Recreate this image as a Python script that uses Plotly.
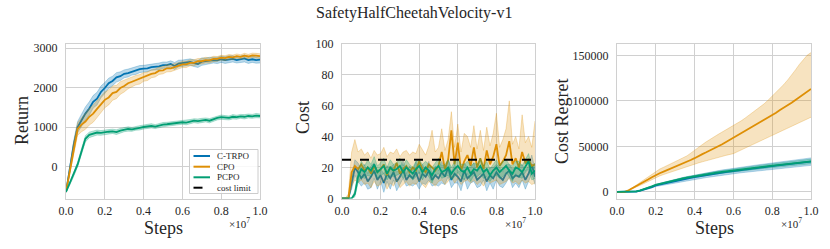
import numpy as np
import plotly.graph_objects as go

# ---------------- data ----------------
steps51 = np.linspace(0, 1, 51)   # x in units of 1e7 steps
steps61 = np.linspace(0, 1, 61)

ctrpo_ret = [-650, -50, 550, 1000, 1180, 1340, 1470, 1640, 1720, 1890,
             1990, 2110, 2170, 2260, 2290, 2350, 2370, 2410, 2430, 2470,
             2480, 2490, 2520, 2530, 2540, 2570, 2570, 2600, 2550, 2610,
             2620, 2640, 2650, 2620, 2600, 2660, 2670, 2690, 2700, 2690,
             2720, 2700, 2720, 2730, 2700, 2720, 2740, 2700, 2720, 2700, 2710]
ctrpo_ret_std = [0, 60, 110, 140, 160, 170, 170, 160, 160, 150,
                 140, 130, 120, 120, 110, 100, 100, 90, 95, 90,
                 85, 85, 80, 80, 85, 80, 80, 80, 90, 85,
                 80, 75, 80, 85, 90, 95, 80, 80, 75, 80,
                 80, 85, 90, 80, 75, 80, 90, 85, 80, 80, 85]
cpo_ret = [-650, -100, 500, 950, 1060, 1140, 1260, 1340, 1460, 1570,
           1690, 1750, 1860, 1890, 1990, 2040, 2110, 2150, 2190, 2210,
           2270, 2290, 2350, 2370, 2430, 2440, 2490, 2490, 2530, 2550,
           2590, 2590, 2630, 2630, 2670, 2670, 2700, 2690, 2730, 2730,
           2760, 2750, 2780, 2770, 2800, 2780, 2810, 2790, 2820, 2810, 2800]
cpo_ret_std = [0, 70, 120, 160, 180, 200, 210, 220, 220, 210,
               200, 190, 180, 170, 160, 150, 140, 130, 120, 120,
               110, 110, 100, 100, 95, 90, 90, 85, 85, 80,
               80, 80, 75, 75, 70, 70, 70, 65, 65, 60,
               60, 60, 60, 55, 55, 55, 60, 55, 55, 60, 60]
pcpo_ret = [-650, -430, -200, 50, 380, 700, 800, 830, 860, 850,
            870, 880, 890, 870, 910, 930, 950, 940, 970, 980,
            1000, 1010, 1030, 1010, 1040, 1060, 1070, 1080, 1090, 1100,
            1120, 1110, 1140, 1160, 1150, 1170, 1180, 1160, 1200, 1230,
            1250, 1240, 1230, 1260, 1250, 1270, 1260, 1280, 1270, 1290, 1280]
pcpo_ret_std = [0, 40, 50, 60, 70, 80, 70, 70, 65, 60,
                60, 55, 55, 60, 55, 50, 55, 50, 50, 55,
                50, 50, 55, 50, 50, 55, 50, 50, 55, 50,
                50, 55, 50, 50, 55, 50, 50, 55, 50, 50,
                55, 50, 50, 55, 50, 50, 55, 50, 50, 55, 50]

cpo_cost = [0, 0, 0, 17, 21, 19, 22, 18, 20, 16,
            21, 17, 19, 22, 15, 20, 18, 23, 16, 19,
            21, 17, 20, 18, 24, 19, 17, 22, 20, 18,
            21, 30, 19, 25, 44, 22, 36, 18, 24, 28,
            21, 33, 20, 26, 19, 31, 22, 27, 35, 21,
            24, 28, 37, 22, 26, 20, 30, 23, 25, 21, 22]
cpo_cost_hi = [0, 0, 3, 30, 38, 30, 32, 28, 30, 26,
               31, 28, 29, 33, 27, 30, 29, 32, 27, 30,
               31, 28, 30, 29, 35, 31, 28, 34, 44, 30,
               33, 45, 31, 38, 56, 33, 48, 30, 42, 40,
               33, 47, 32, 44, 31, 46, 34, 42, 55, 33,
               38, 45, 63, 35, 40, 32, 54, 36, 40, 33, 50]
cpo_cost_lo = [0, 0, 0, 8, 12, 10, 12, 9, 10, 7,
               11, 8, 9, 12, 6, 10, 8, 12, 7, 9,
               11, 8, 10, 9, 12, 9, 7, 11, 10, 8,
               11, 12, 9, 11, 14, 10, 13, 9, 11, 12,
               10, 12, 9, 11, 8, 12, 10, 11, 12, 9,
               10, 11, 13, 10, 11, 9, 12, 10, 11, 9, 10]
ctrpo_cost = [0, 0, 0, 10, 20, 17, 13, 16, 11, 14,
              18, 12, 15, 10, 16, 13, 17, 11, 14, 19,
              12, 15, 13, 17, 11, 16, 14, 18, 12, 15,
              13, 17, 14, 20, 12, 16, 14, 11, 18, 13,
              15, 17, 12, 14, 16, 11, 15, 13, 17, 14,
              12, 16, 18, 13, 15, 14, 17, 12, 16, 22, 14]
ctrpo_cost_std = [0, 0, 0, 4, 5, 6, 5, 6, 5, 7,
                  5, 6, 4, 6, 5, 7, 5, 6, 5, 6,
                  4, 6, 5, 7, 5, 6, 5, 6, 4, 6,
                  5, 7, 5, 6, 5, 6, 4, 6, 5, 7,
                  5, 6, 5, 6, 4, 6, 5, 7, 5, 6,
                  5, 6, 4, 6, 5, 7, 5, 6, 5, 6, 5]
pcpo_cost = [0, 0, 0, 0, 3, 14, 19, 17, 20, 18,
             22, 17, 19, 21, 16, 20, 18, 19, 21, 17,
             20, 18, 16, 19, 21, 17, 20, 18, 15, 19,
             21, 17, 18, 20, 16, 19, 21, 18, 17, 20,
             16, 19, 18, 21, 17, 19, 15, 18, 20, 17,
             19, 21, 18, 16, 20, 19, 17, 21, 24, 16, 18]
pcpo_cost_std = [0, 0, 0, 0, 2, 4, 5, 4, 5, 4,
                 5, 4, 4, 5, 4, 5, 4, 4, 5, 4,
                 5, 4, 4, 5, 4, 5, 4, 4, 5, 4,
                 5, 4, 4, 5, 4, 5, 4, 4, 5, 4,
                 5, 4, 4, 5, 4, 5, 4, 4, 5, 4,
                 5, 4, 4, 5, 4, 5, 4, 4, 5, 4, 5]
cost_limit = 25

cpo_reg = [0, 0, 0, 1800, 4000, 6500, 9000, 11500, 13500, 16000,
           18500, 20500, 22300, 24000, 25800, 27500, 29200, 31000, 33000, 35000,
           37000, 39500, 41500, 43500, 45500, 47500, 49500, 52000, 54500, 57000,
           59000, 61500, 64000, 66500, 69000, 71500, 74000, 76500, 79000, 81500,
           84000, 87000, 90000, 92500, 95000, 98000, 101000, 104000, 107000, 110000, 113000]
cpo_reg_hi = [0, 0, 0, 2000, 4500, 7500, 10500, 13500, 16500, 19500,
              23000, 25000, 27000, 29000, 31000, 33000, 35000, 37000, 39500, 42500,
              46000, 49000, 52000, 55000, 58000, 60500, 63000, 65500, 68000, 70500,
              72500, 75000, 78000, 81000, 84000, 87000, 90000, 93500, 97000, 101000,
              105000, 109000, 113000, 118000, 123000, 128000, 134000, 140000, 145000, 150000, 153000]
cpo_reg_lo = [0, 0, 0, 1500, 3200, 5200, 7200, 9200, 11500, 13500,
              15900, 17500, 19000, 20500, 22000, 23500, 25000, 26500, 28000, 29300,
              30700, 31800, 33000, 34000, 35200, 36400, 37600, 38800, 40000, 41000,
              42000, 44000, 46000, 48000, 50000, 52000, 54000, 56000, 58000, 60000,
              62000, 64000, 66000, 68000, 70000, 72000, 74000, 76000, 78000, 80000, 82000]
ctrpo_reg = [0, 0, 0, 0, 0, 400, 1300, 2500, 3800, 5300,
             7000, 8000, 9000, 10000, 11000, 11900, 12800, 13700, 14500, 15300,
             16100, 16900, 17600, 18300, 19000, 19700, 20400, 21100, 21700, 22300,
             22900, 23500, 24100, 24700, 25200, 25700, 26200, 26700, 27200, 27700,
             28200, 28700, 29200, 29700, 30200, 30700, 31200, 31700, 32200, 32700, 33200]
ctrpo_reg_std = [0, 0, 0, 0, 0, 100, 300, 500, 700, 900,
                 1100, 1300, 1400, 1600, 1700, 1800, 1900, 2000, 2100, 2200,
                 2300, 2400, 2500, 2600, 2700, 2700, 2800, 2900, 2900, 3000,
                 3000, 3100, 3100, 3200, 3200, 3300, 3300, 3400, 3400, 3500,
                 3500, 3600, 3600, 3700, 3700, 3800, 3800, 3900, 3900, 4000, 4100]
pcpo_reg = [0, 0, 0, 0, 0, 600, 1700, 3000, 4500, 6100,
            7800, 8900, 10000, 11100, 12100, 13000, 13900, 14800, 15700, 16500,
            17200, 17900, 18600, 19300, 20000, 20700, 21300, 21900, 22500, 23100,
            23600, 24200, 24700, 25200, 25700, 26200, 26700, 27200, 27700, 28200,
            28700, 29200, 29700, 30100, 30500, 30900, 31400, 31900, 32400, 32900, 33400]
pcpo_reg_std = [0, 0, 0, 0, 0, 100, 200, 300, 400, 500,
                600, 650, 700, 750, 800, 850, 900, 950, 1000, 1050,
                1100, 1150, 1200, 1250, 1300, 1350, 1400, 1450, 1500, 1550,
                1600, 1650, 1700, 1750, 1800, 1850, 1900, 1950, 2000, 2050,
                2100, 2150, 2200, 2250, 2300, 2350, 2400, 2450, 2500, 2550, 2600]

names = ["C-TRPO", "CPO", "PCPO"]
legend_labels = ["C-TRPO", "CPO", "PCPO", "cost limit"]
colors = {"C-TRPO": "#0173b2", "CPO": "#de8f05", "PCPO": "#029e73"}
fills = {"C-TRPO": "rgba(1,115,178,0.28)", "CPO": "rgba(222,143,5,0.25)", "PCPO": "rgba(2,158,115,0.28)"}
edges = {"C-TRPO": "rgba(1,115,178,0.45)", "CPO": "rgba(222,143,5,0.45)", "PCPO": "rgba(2,158,115,0.45)"}

FONT = "Liberation Serif"
W, H = 830, 249

fig = go.Figure()


def add_series(x, mean, lo, hi, name, xa, ya):
    fig.add_trace(go.Scatter(x=x, y=hi, xaxis=xa, yaxis=ya, mode="lines",
                             line=dict(color=edges[name], width=0.6), showlegend=False,
                             hoverinfo="skip"))
    fig.add_trace(go.Scatter(x=x, y=lo, xaxis=xa, yaxis=ya, mode="lines", fill="tonexty",
                             fillcolor=fills[name],
                             line=dict(color=edges[name], width=0.6), showlegend=False,
                             hoverinfo="skip"))
    fig.add_trace(go.Scatter(x=x, y=mean, xaxis=xa, yaxis=ya, mode="lines", name=name,
                             line=dict(color=colors[name], width=1.8), showlegend=False))


# panel 1: return
ret = {"C-TRPO": (ctrpo_ret, ctrpo_ret_std), "CPO": (cpo_ret, cpo_ret_std), "PCPO": (pcpo_ret, pcpo_ret_std)}
for n in names:
    m, s = np.array(ret[n][0]), np.array(ret[n][1])
    add_series(steps51, m, m - s, m + s, n, "x", "y")

# panel 2: cost
for n in names:
    if n == "CPO":
        add_series(steps61, cpo_cost, cpo_cost_lo, cpo_cost_hi, n, "x2", "y2")
    else:
        m = np.array(ctrpo_cost if n == "C-TRPO" else pcpo_cost)
        s = np.array(ctrpo_cost_std if n == "C-TRPO" else pcpo_cost_std)
        add_series(steps61, m, np.clip(m - s, 0, None), m + s, n, "x2", "y2")
fig.add_trace(go.Scatter(x=[0, 1], y=[cost_limit, cost_limit], xaxis="x2", yaxis="y2",
                         mode="lines", name="cost limit",
                         line=dict(color="black", width=2, dash="dash"), showlegend=False))

# panel 3: cost regret
add_series(steps51, np.array(ctrpo_reg), np.array(ctrpo_reg) - np.array(ctrpo_reg_std),
           np.array(ctrpo_reg) + np.array(ctrpo_reg_std), "C-TRPO", "x3", "y3")
add_series(steps51, cpo_reg, cpo_reg_lo, cpo_reg_hi, "CPO", "x3", "y3")
add_series(steps51, np.array(pcpo_reg), np.array(pcpo_reg) - np.array(pcpo_reg_std),
           np.array(pcpo_reg) + np.array(pcpo_reg_std), "PCPO", "x3", "y3")

# ---------------- layout ----------------
grid = "#d0d0d0"
tickfont = dict(family=FONT, size=12, color="#262626")


def xax(l, r, anchor):
    return dict(domain=[l / W, r / W], range=[0, 1], tickvals=[0, 0.2, 0.4, 0.6, 0.8, 1.0],
                ticktext=["0.0", "0.2", "0.4", "0.6", "0.8", "1.0"], showgrid=True,
                gridcolor=grid, gridwidth=1, showline=True, linecolor=grid, linewidth=1,
                mirror=True, zeroline=False, ticks="outside", ticklen=1,
                tickcolor="rgba(0,0,0,0)", tickfont=tickfont, automargin=False, anchor=anchor)


def yax(rng, vals, anchor):
    return dict(domain=[(H - 198.5) / H, (H - 43.5) / H], range=rng, tickvals=vals,
                ticktext=[str(v) for v in vals], showgrid=True, gridcolor=grid, gridwidth=1,
                showline=True, linecolor=grid, linewidth=1, mirror=True, zeroline=False,
                ticks="outside", ticklen=5, tickcolor="rgba(0,0,0,0)", tickfont=tickfont,
                anchor=anchor, automargin=False)


fig.update_layout(
    width=W, height=H, margin=dict(l=0, r=0, t=0, b=0, autoexpand=False),
    plot_bgcolor="white", paper_bgcolor="white",
    font=dict(family=FONT, color="#262626"),
    xaxis=xax(66, 260, "y"),
    xaxis2=xax(342, 535, "y2"),
    xaxis3=xax(617, 811, "y3"),
    yaxis=yax([-815, 3120], [0, 1000, 2000, 3000], "x"),
    yaxis2=yax([0, 100], [0, 20, 40, 60, 80, 100], "x2"),
    yaxis3=yax([-7300, 163000], [0, 50000, 100000, 150000], "x3"),
    showlegend=False,
)


def px(xp):
    return xp / W


def py(yp):
    return (H - yp) / H


ann = []
shapes = []
ann.append(dict(x=px(414), y=py(13), xref="paper", yref="paper", text="SafetyHalfCheetahVelocity-v1",
                showarrow=False, font=dict(family=FONT, size=16, color="#262626"),
                xanchor="center", yanchor="middle"))
for (cx, txt) in [(163, "Steps"), (438, "Steps"), (714, "Steps")]:
    ann.append(dict(x=px(cx), y=py(228), xref="paper", yref="paper", text=txt, showarrow=False,
                    font=dict(family=FONT, size=18, color="#262626"), xanchor="center", yanchor="middle"))
for rx in [252, 528, 804]:
    ann.append(dict(x=px(rx), y=py(223), xref="paper", yref="paper", text="×10<sup>7</sup>",
                    showarrow=False, font=dict(family=FONT, size=11, color="#262626"),
                    xanchor="right", yanchor="middle"))
for (cx, cy, txt) in [(22, 121, "Return"), (303, 118, "Cost"), (562, 121, "Cost Regret")]:
    ann.append(dict(x=px(cx), y=py(cy), xref="paper", yref="paper", text=txt, showarrow=False,
                    textangle=-90, font=dict(family=FONT, size=18, color="#262626"),
                    xanchor="center", yanchor="middle"))

# legend (drawn in panel 1, lower right)
shapes.append(dict(type="rect", xref="paper", yref="paper", x0=px(189.5), x1=px(258),
                   y0=py(193.5), y1=py(149.5), line=dict(color="#cccccc", width=1),
                   fillcolor="rgba(255,255,255,0.85)", layer="above"))
leg_y = [156, 166.7, 177.3, 187.7]
for lab, yy in zip(legend_labels, leg_y):
    if lab == "cost limit":
        col, dash = "black", "dash"
    else:
        col, dash = colors[lab], "solid"
    shapes.append(dict(type="line", xref="paper", yref="paper", x0=px(193.5), x1=px(210),
                       y0=py(yy), y1=py(yy), line=dict(color=col, width=2, dash=dash), layer="above"))
    ann.append(dict(x=px(215), y=py(yy), xref="paper", yref="paper", text=lab, showarrow=False,
                    font=dict(family=FONT, size=9, color="#262626"), xanchor="left", yanchor="middle"))

fig.update_layout(annotations=ann, shapes=shapes)

fig.write_html("out.html", config={"displayModeBar": False},
               post_script="document.body.style.margin='0px';document.body.style.overflow='hidden';")
